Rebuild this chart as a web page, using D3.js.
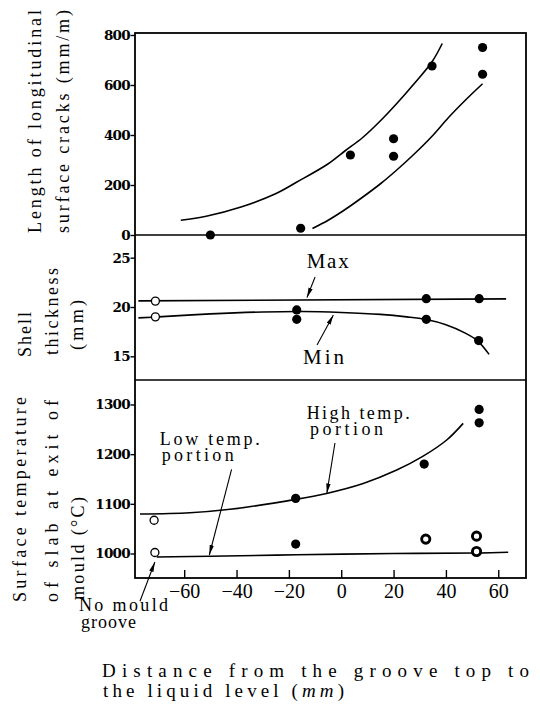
<!DOCTYPE html>
<html><head><meta charset="utf-8">
<script src="https://cdn.jsdelivr.net/npm/d3@7"></script>
<style>body{margin:0;background:#fff}svg{display:block}</style>
</head><body>
<script>
// ---------- data ----------
const xTicks = [-60, -40, -20, 0, 20, 40, 60];
const crackTicks = [0, 200, 400, 600, 800];
const shellTicks = [15, 20, 25];
const tempTicks = [1000, 1100, 1200, 1300];

// top panel: length of longitudinal surface cracks
const crackX = [-50, -15.5, 3.5, 20, 20, 34.7, 54, 54];
const crackY = [0, 27, 320, 385, 315, 676, 750, 643];
const crackUpperCurve = [[-61.3,59],[-51.6,75],[-38.3,112],[-25.1,165],[-17.1,211],[-5.1,284],[1.5,337],[8.1,389],[14.8,455],[21.4,528],[28,607],[34.7,693],[38.6,766]];
const crackLowerCurve = [[-11,26],[-5,59],[1.5,102],[8,150],[15,205],[21,258],[28,325],[34.7,395],[41,470],[47.5,540],[54,605]];

// middle panel: shell thickness
const shellOpenX = [-71, -71];
const shellOpenY = [20.6, 19.0];
const shellFilledX = [-17, -17, 32.5, 32.5, 52.7, 52.5];
const shellFilledY = [19.7, 18.75, 20.84, 18.75, 20.84, 16.6];
const shellMaxLine = [[-77.5,20.62],[63,20.82]];
const shellMinCurve = [[-77.5,18.9],[-70,19.0],[-50,19.3],[-30,19.5],[-15,19.55],[0,19.45],[15,19.25],[25,19.0],[32,18.75],[40,18.2],[47,17.4],[52,16.6],[56.5,15.2]];

// bottom panel: surface temperature
const tempOpenX = [-71.5, -71.2];
const tempOpenY = [1067, 1002];
const tempFilledX = [-17.4, 31.7, 52.7, 52.7, -17.4];
const tempFilledY = [1111, 1180, 1263, 1290, 1019];
const tempHalfX = [32.3, 51.7, 51.7];
const tempHalfY = [1029, 1035, 1004];
const tempHighCurve = [[-76.9,1079.5],[-57.8,1082],[-42.5,1089],[-17.4,1109],[-5.6,1121],[8.4,1141],[21.2,1168],[31.3,1196],[40.3,1228.5],[46.6,1262]];
const tempLowCurve = [[-70.5,993],[-50,994.5],[-17,997.5],[20,1000],[51.7,1001],[63.8,1002.5]];

// annotation arrows (data units: [x1,y1,x2,y2], head at second point)
const maxArrow = [-10.0, 23.04, -13.1, 20.95];
const minArrow = [-9.25, 16.15, -3.0, 19.2];
const highArrow = [-2.4, 1222.5, -5.5, 1121];
const lowArrow = [-41.9, 1169.5, -50.4, 997];
const grooveArrow = [-76.9, 904, -71.2, 983];

// ---------- layout ----------
const W = 540, H = 707;
const L = 135, R = 526, T = 33, B = 578, D1 = 235, D2 = 380;
const serif = "'Liberation Serif', 'Times New Roman', serif";

const svg = d3.select("body").append("svg").attr("width", W).attr("height", H);
svg.append("rect").attr("width", W).attr("height", H).attr("fill", "#fff");

const defs = svg.append("defs");
defs.append("marker").attr("id", "ah").attr("markerUnits", "userSpaceOnUse")
  .attr("viewBox", "0 -3 10 6").attr("refX", 10).attr("refY", 0)
  .attr("markerWidth", 10).attr("markerHeight", 6).attr("orient", "auto")
  .append("path").attr("d", "M0,-2.2L10,0L0,2.2Z").attr("fill", "#000");

const x = d3.scaleLinear().domain([-78.8, 70.6]).range([L, R]);
const yTop = d3.scaleLinear().domain([0, 808]).range([D1, T]);
const yMid = d3.scaleLinear().domain([12.6, 27.3]).range([D2, D1]);
const yBot = d3.scaleLinear().domain([950.7, 1349.3]).range([B, D2]);

// frame
const g = svg.append("g");
g.append("rect").attr("x", L).attr("y", T).attr("width", R - L).attr("height", B - T)
  .attr("fill", "none").attr("stroke", "#000").attr("stroke-width", 1.8);
[D1, D2].forEach(yy => g.append("line").attr("x1", L).attr("x2", R).attr("y1", yy).attr("y2", yy)
  .attr("stroke", "#000").attr("stroke-width", 1.6));

// y axes
function yAxis(scale, ticks) {
  const a = g.append("g").attr("transform", `translate(${L},0)`)
    .call(d3.axisLeft(scale).tickValues(ticks).tickSize(4.5).tickPadding(0.5).tickFormat(d3.format("d")));
  a.select(".domain").remove();
  a.selectAll("line").attr("stroke", "#000").attr("stroke-width", 1.4);
  a.selectAll("text").attr("font-family", "'DejaVu Serif', serif").attr("font-size", 13.5)
    .attr("font-weight", "bold").attr("fill", "#000").attr("letter-spacing", -0.7);
}
yAxis(yTop, crackTicks);
yAxis(yMid, shellTicks);
yAxis(yBot, tempTicks);

// x axis
const xa = g.append("g").attr("transform", `translate(0,${B})`)
  .call(d3.axisBottom(x).tickValues(xTicks).tickSize(-8).tickPadding(6));
xa.select(".domain").remove();
xa.selectAll("line").attr("stroke", "#000").attr("stroke-width", 1.4);
xa.selectAll("text").attr("font-family", serif).attr("font-size", 20).attr("fill", "#000");

// helpers
const line = d3.line().x(d => x(d[0])).curve(d3.curveCatmullRom.alpha(0.5));
function curve(data, ys) {
  g.append("path").datum(data).attr("d", line.y(d => ys(d[1]))(data))
    .attr("fill", "none").attr("stroke", "#000").attr("stroke-width", 1.6);
}
function dots(xs, vs, ys, kind) {
  const sel = g.append("g").selectAll("circle").data(xs.map((v, i) => [v, vs[i]])).join("circle")
    .attr("cx", d => x(d[0])).attr("cy", d => ys(d[1]));
  if (kind === "filled") sel.attr("r", 4.6).attr("fill", "#000");
  else if (kind === "open") sel.attr("r", 4).attr("fill", "#fff").attr("stroke", "#000").attr("stroke-width", 1.3);
  else sel.attr("r", 4.1).attr("fill", "#fff").attr("stroke", "#000").attr("stroke-width", 2.9);
}
function arrow(a, ys) {
  g.append("line").attr("x1", x(a[0])).attr("y1", ys(a[1])).attr("x2", x(a[2])).attr("y2", ys(a[3]))
    .attr("stroke", "#000").attr("stroke-width", 1.1).attr("marker-end", "url(#ah)");
}
function label(txt, px, py, size, len) {
  const t = g.append("text").attr("x", px).attr("y", py).attr("font-family", serif)
    .attr("font-size", size).attr("fill", "#000").text(txt);
  if (len) t.attr("textLength", len).attr("lengthAdjust", "spacing");
  return t;
}
function vlabel(txt, cx, yStart, len) {
  g.append("text").attr("transform", `translate(${cx},${yStart}) rotate(-90)`)
    .attr("dominant-baseline", "central").attr("font-family", serif).attr("font-size", 18)
    .attr("fill", "#000").attr("textLength", len).attr("lengthAdjust", "spacing").text(txt);
}

// top panel
curve(crackUpperCurve, yTop);
curve(crackLowerCurve, yTop);
dots(crackX, crackY, yTop, "filled");

// middle panel
curve(shellMaxLine, yMid);
curve(shellMinCurve, yMid);
dots(shellOpenX, shellOpenY, yMid, "open");
dots(shellFilledX, shellFilledY, yMid, "filled");
arrow(maxArrow, yMid);
arrow(minArrow, yMid);
label("Max", x(-13.2), yMid(23.96), 21, 42);
label("Min", x(-14.6), yMid(14.25), 21, 41);

// bottom panel
curve(tempHighCurve, yBot);
curve(tempLowCurve, yBot);
dots(tempOpenX, tempOpenY, yBot, "open");
dots(tempFilledX, tempFilledY, yBot, "filled");
dots(tempHalfX, tempHalfY, yBot, "half");
arrow(highArrow, yBot);
arrow(lowArrow, yBot);
arrow(grooveArrow, yBot);
label("High temp.", x(-13.2), yBot(1270), 18, 103);
label("portion", x(-11.9), yBot(1238.6), 18, 73);
label("Low temp.", x(-69.3), yBot(1218.4), 18, 100);
label("portion", x(-68.6), yBot(1186), 18, 72);
label("No mould", 79, 611, 18, 89);
label("groove", 81, 628, 18, 55);

// axis titles
vlabel("Length of longitudinal", 35, 233, 223);
vlabel("surface cracks (mm/m)", 63, 233, 223);
vlabel("Shell", 25, 357, 45);
vlabel("thickness", 52, 355, 87);
vlabel("(mm)", 77, 350, 50);
vlabel("Surface temperature", 20, 602, 205);
vlabel("of slab at exit of", 52, 602, 202);
vlabel("mould (°C)", 78, 600, 103);

label("Distance from the groove top to", 102, 677, 19, 427);
const t2 = g.append("text").attr("x", 103).attr("y", 697).attr("font-family", serif)
  .attr("font-size", 19).attr("fill", "#000").attr("textLength", 241).attr("lengthAdjust", "spacing");
t2.append("tspan").text("the liquid level (");
t2.append("tspan").attr("font-style", "italic").text("mm");
t2.append("tspan").text(")");
</script>
</body></html>
